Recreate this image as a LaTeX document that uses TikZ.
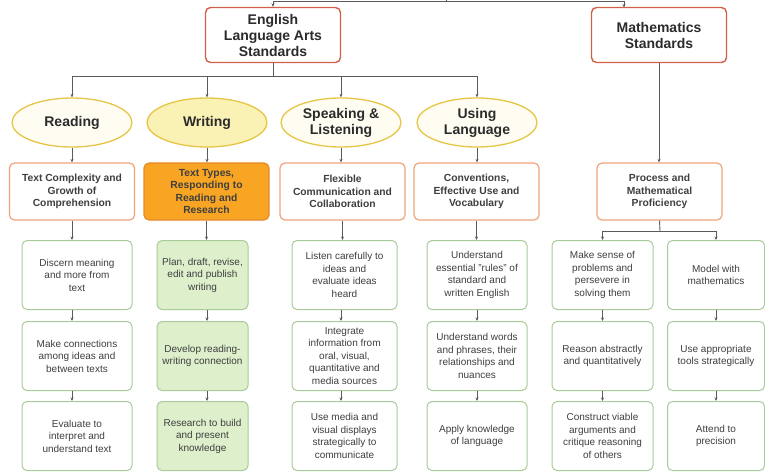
\documentclass[tikz,border=0pt]{standalone}
\usepackage{fontspec}
\setmainfont{Liberation Sans}
\usetikzlibrary{arrows.meta,shapes.geometric}

\definecolor{txt}{HTML}{2B2B2B}
\definecolor{soft}{HTML}{3F3F3F}
\definecolor{line}{HTML}{5A5A5A}
\definecolor{topedge}{HTML}{D0604A}
\definecolor{subedge}{HTML}{EFA47A}
\definecolor{elledge}{HTML}{E6C545}
\definecolor{ellfill}{HTML}{FFFDF2}
\definecolor{ellhi}{HTML}{FAF2B4}
\definecolor{orangefill}{HTML}{F8A524}
\definecolor{orangeedge}{HTML}{E58A2C}
\definecolor{leafedge}{HTML}{A9CB9A}
\definecolor{leaffill}{HTML}{DDEFCB}

\tikzset{
  topbox/.style={draw=topedge, line width=1.4pt, fill=white, rounded corners=5pt,
    minimum width=135pt, minimum height=55pt, align=center, text=txt,
    font=\fontsize{14}{16}\selectfont\bfseries, inner sep=2pt},
  strand/.style={ellipse, draw=elledge, line width=1.3pt, fill=ellfill,
    minimum width=120pt, minimum height=49pt, align=center, text=txt,
    font=\fontsize{14}{16}\selectfont\bfseries, inner sep=0pt},
  subbox/.style={draw=subedge, line width=1.2pt, fill=white, rounded corners=5pt,
    minimum width=125pt, minimum height=57pt, align=center, text=soft,
    font=\fontsize{10.3}{12.5}\selectfont\bfseries, inner sep=2pt},
  leaf/.style={draw=leafedge, line width=1pt, fill=white, rounded corners=5pt,
    minimum height=69pt, align=center, text=soft,
    font=\fontsize{10}{12.5}\selectfont, inner sep=2pt},
  arr/.style={draw=line, line width=0.9pt, -{Stealth[length=3.5pt,width=3pt]}},
  ln/.style={draw=line, line width=0.9pt},
}

\begin{document}
\begin{tikzpicture}[x=1pt,y=-1pt]
\useasboundingbox (0,0) rectangle (765,473);

% top level
\node[topbox] (ela) at (273,35) {English\\Language Arts\\Standards};
\node[topbox] (math) at (659,35) {Mathematics\\Standards};

% strands
\node[strand] (read) at (72,122.5) {Reading};
\node[strand, fill=ellhi] (writ) at (207,122.5) {Writing};
\node[strand] (speak) at (341,122.5) {Speaking \&\\Listening};
\node[strand] (lang) at (477,122.5) {Using\\Language};

% anchor standards
\node[subbox] (readA) at (72,191.5) {Text Complexity and\\Growth of\\Comprehension};
\node[subbox, fill=orangefill, draw=orangeedge] (writA) at (206.5,191.5) {Text Types,\\Responding to\\Reading and\\Research};
\node[subbox] (speakA) at (342.5,191.5) {Flexible\\Communication and\\Collaboration};
\node[subbox] (langA) at (476.5,191.5) {Conventions,\\Effective Use and\\Vocabulary};
\node[subbox] (proc) at (659.5,191.5) {Process and\\Mathematical\\Proficiency};

% reading column
\node[leaf, minimum width=110pt] (r1) at (77,275) {Discern meaning\\and more from\\text};
\node[leaf, minimum width=110pt] (r2) at (77,356) {Make connections\\among ideas and\\between texts};
\node[leaf, minimum width=110pt] (r3) at (77,436) {Evaluate to\\interpret and\\understand text};

% writing column
\node[leaf, minimum width=91pt, fill=leaffill] (w1) at (202.5,275) {Plan, draft, revise,\\edit and publish\\writing};
\node[leaf, minimum width=91pt, fill=leaffill] (w2) at (202.5,356) {Develop reading-\\writing connection};
\node[leaf, minimum width=91pt, fill=leaffill] (w3) at (202.5,436) {Research to build\\and present\\knowledge};

% speaking and listening column
\node[leaf, minimum width=105pt] (s1) at (344.5,275) {Listen carefully to\\ideas and\\evaluate ideas\\heard};
\node[leaf, minimum width=105pt] (s2) at (344.5,356) {Integrate\\information from\\oral, visual,\\quantitative and\\media sources};
\node[leaf, minimum width=105pt] (s3) at (344.5,436) {Use media and\\visual displays\\strategically to\\communicate};

% language column
\node[leaf, minimum width=100pt] (l1) at (477,275) {Understand\\essential "rules" of\\standard and\\written English};
\node[leaf, minimum width=100pt] (l2) at (477,356) {Understand words\\and phrases, their\\relationships and\\nuances};
\node[leaf, minimum width=100pt] (l3) at (477,436) {Apply knowledge\\of language};

% mathematical practices
\node[leaf, minimum width=101pt] (m1) at (602.5,275) {Make sense of\\problems and\\persevere in\\solving them};
\node[leaf, minimum width=101pt] (m2) at (602.5,356) {Reason abstractly\\and quantitatively};
\node[leaf, minimum width=101pt] (m3) at (602.5,436) {Construct viable\\arguments and\\critique reasoning\\of others};
\node[leaf, minimum width=97pt] (n1) at (716,275) {Model with\\mathematics};
\node[leaf, minimum width=97pt] (n2) at (716,356) {Use appropriate\\tools strategically};
\node[leaf, minimum width=97pt] (n3) at (716,436) {Attend to\\precision};

% connectors from the common root
\coordinate (root) at (446,1.5);
\coordinate (mathin) at (624,7.5);
\draw[ln] (root) -- ++(0,-3);
\draw[arr] (root) -| (ela.north);
\draw[arr] (root) -| (mathin);

% ELA bus
\coordinate (bus) at (273,76);
\draw[ln] (ela.south) -- (bus);
\foreach \s in {read,writ,speak,lang}{
  \draw[arr] (bus) -| (\s.north);
}

% strands to anchor standards
\draw[arr] (read.south) -- (read.south |- readA.north);
\draw[arr] (writ.south) -- (writ.south |- writA.north);
\draw[arr] (speak.south) -- (speak.south |- speakA.north);
\draw[arr] (lang.south) -- (lang.south |- langA.north);
\draw[arr] (math.south) -- (math.south |- proc.north);

% anchor standards to their columns
\draw[arr] (readA.south) -- (readA.south |- r1.north);
\draw[arr] (writA.south) -- (writA.south |- w1.north);
\draw[arr] (speakA.south) -- (speakA.south |- s1.north);
\draw[arr] (langA.south) -- (langA.south |- l1.north);
\coordinate (pbus) at (660,231);
\draw[ln] (proc.south) -- (pbus);
\draw[arr] (pbus) -| (m1.north);
\draw[arr] (pbus) -| (n1.north);

% within each column
\draw[arr] (r1.south -| readA.south) -- (r2.north -| readA.south);
\draw[arr] (r2.south -| readA.south) -- (r3.north -| readA.south);
\draw[arr] (w1.south -| writ.south) -- (w2.north -| writ.south);
\draw[arr] (w2.south -| writ.south) -- (w3.north -| writ.south);
\draw[arr] (s1.south -| speak.south) -- (s2.north -| speak.south);
\draw[arr] (s2.south -| speak.south) -- (s3.north -| speak.south);
\draw[arr] (l1) -- (l2);
\draw[arr] (l2) -- (l3);
\draw[arr] (m1) -- (m2);
\draw[arr] (m2) -- (m3);
\draw[arr] (n1) -- (n2);
\draw[arr] (n2) -- (n3);
\end{tikzpicture}
\end{document}
